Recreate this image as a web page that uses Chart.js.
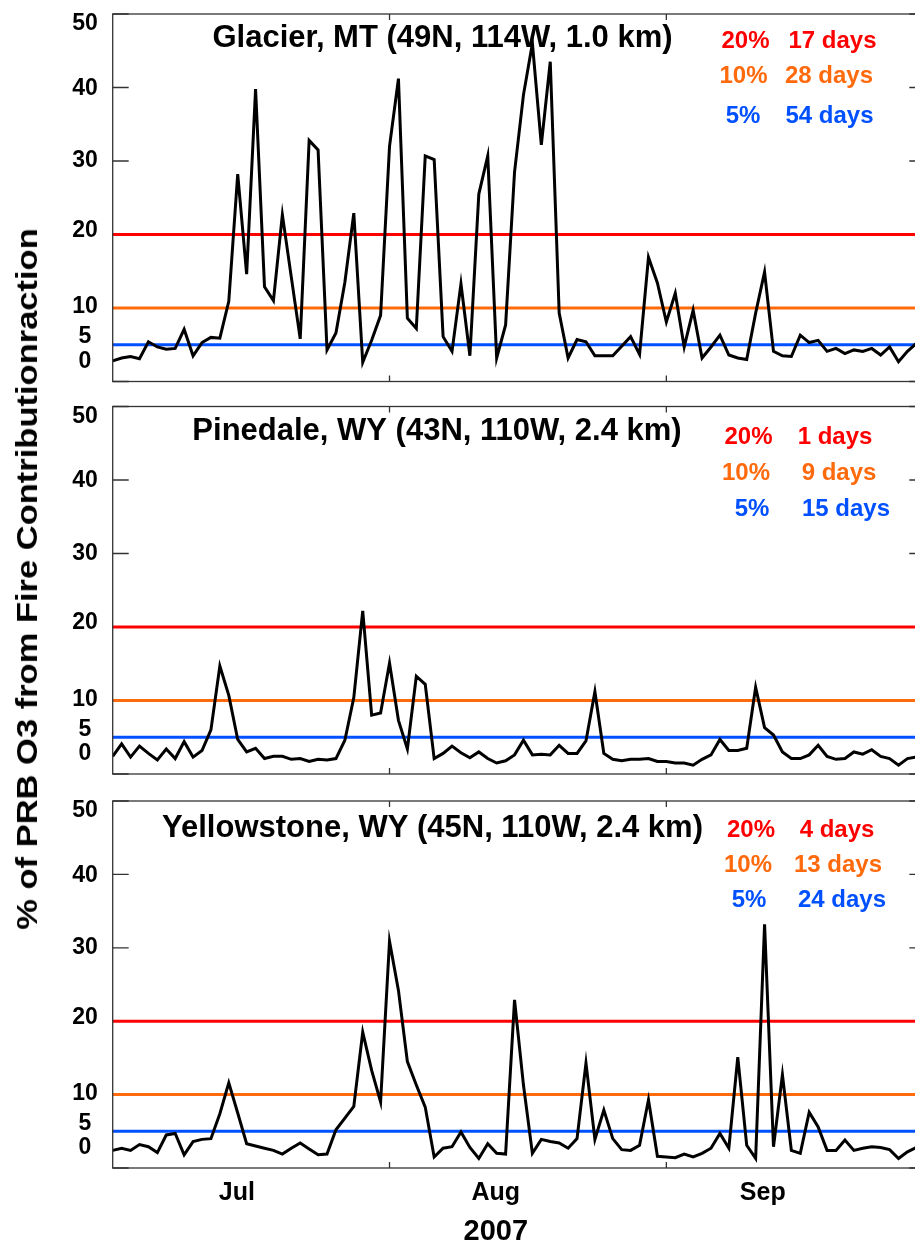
<!DOCTYPE html>
<html>
<head>
<meta charset="utf-8">
<script src="https://cdn.jsdelivr.net/npm/chart.js@4.4.1/dist/chart.umd.min.js"></script>
<style>
  html, body { margin: 0; padding: 0; overflow: hidden; background: #fff; }
  #page { position: relative; width: 915px; height: 1243px; overflow: hidden; }
  #page canvas { position: absolute; left: 0; }
  #ytitle {
    position: absolute; left: 27px; top: 579px;
    font: bold 30px "Liberation Sans", Arial, sans-serif;
    line-height: 30px; white-space: nowrap; color: #000;
    transform: translate(-50%, -50%) rotate(-90deg) scaleX(1.15);
  }
</style>
</head>
<body>
<div id="page">
  <canvas id="glacier" width="930" height="395" style="top:0px"></canvas>
  <canvas id="pinedale" width="930" height="395" style="top:395px"></canvas>
  <canvas id="yellowstone" width="930" height="453" style="top:790px"></canvas>
  <div id="ytitle">% of PRB O3 from Fire Contributionraction</div>
</div>
<script>
// daily fire contribution (%), day 0 = Jul 1 2007 ... day 91 = Sep 30
const glacier = [
  2.8, 3.2, 3.4, 3.1, 5.4, 4.7, 4.4, 4.5, 7.1, 3.5,
  5.3, 6.0, 5.9, 10.9, 28.2, 14.6, 39.8, 12.9, 11.0, 22.7,
  14.2, 5.8, 32.8, 31.5, 4.3, 6.6, 13.5, 22.9, 2.6, 5.6,
  9.0, 32.0, 41.2, 8.6, 7.2, 30.7, 30.2, 6.1, 4.1, 13.3,
  3.5, 25.5, 30.7, 3.2, 7.7, 28.5, 39.0, 46.0, 32.2, 43.5,
  9.3, 3.2, 5.7, 5.4, 3.5, 3.5, 3.5, 4.8, 6.1, 3.7,
  16.9, 13.4, 8.1, 12.0, 4.7, 9.7, 3.2, 4.7, 6.3, 3.6,
  3.2, 3.0, 9.3, 14.9, 4.1, 3.5, 3.4, 6.3, 5.3, 5.6,
  4.1, 4.5, 3.8, 4.3, 4.1, 4.5, 3.6, 4.7, 2.7, 4.1,
  5.2, 6.2
];
const pinedale = [
  2.4, 4.1, 2.3, 3.8, 2.8, 1.9, 3.4, 2.1, 4.4, 2.3,
  3.2, 6.0, 14.7, 10.7, 4.7, 3.0, 3.5, 2.1, 2.4, 2.4,
  2.0, 2.1, 1.7, 2.0, 1.9, 2.1, 4.6, 10.4, 22.2, 8.0,
  8.3, 15.1, 7.3, 3.4, 13.3, 12.2, 2.1, 2.8, 3.8, 2.9,
  2.2, 3.0, 2.1, 1.5, 1.8, 2.6, 4.6, 2.6, 2.7, 2.6,
  3.9, 2.8, 2.8, 4.5, 11.2, 2.8, 2.0, 1.8, 2.0, 2.0,
  2.1, 1.7, 1.7, 1.5, 1.5, 1.2, 2.0, 2.6, 4.7, 3.2,
  3.2, 3.5, 11.8, 6.3, 5.3, 3.0, 2.1, 2.1, 2.6, 3.9,
  2.4, 2.0, 2.1, 3.0, 2.7, 3.3, 2.4, 2.1, 1.2, 2.1,
  2.3, 2.3
];
const yellowstone = [
  2.4, 2.7, 2.4, 3.2, 2.9, 2.1, 4.5, 4.7, 1.8, 3.6,
  3.9, 4.0, 7.4, 11.6, 7.5, 3.3, 3.0, 2.7, 2.4, 1.9,
  2.7, 3.4, 2.6, 1.8, 1.9, 5.2, 6.8, 8.4, 18.5, 13.3,
  9.0, 30.9, 24.2, 14.5, 11.3, 8.3, 1.5, 2.7, 2.9, 4.9,
  2.8, 1.3, 3.3, 2.0, 1.9, 22.9, 11.3, 2.0, 3.9, 3.6,
  3.4, 2.7, 4.0, 14.3, 3.9, 7.9, 4.0, 2.5, 2.4, 3.1,
  9.3, 1.6, 1.5, 1.4, 1.9, 1.5, 2.0, 2.7, 4.7, 2.7,
  15.1, 3.1, 1.3, 33.2, 2.9, 12.7, 2.4, 2.0, 7.6, 5.6,
  2.4, 2.4, 3.8, 2.4, 2.7, 2.9, 2.8, 2.5, 1.3, 2.2,
  2.8, 3.0
];

// threshold lines and number of days above each one
const thresholds = [20, 10, 5];
const glacierDays = [17, 28, 54];
const pinedaleDays = [1, 9, 15];
const yellowstoneDays = [4, 13, 24];

const yTicks = [0, 5, 10, 20, 30, 40, 50];
const monthStarts = [31, 62];          // Aug 1, Sep 1
const monthNames = ['Jul', 'Aug', 'Sep'];
const monthLabelDays = [13.9, 42.9, 72.8];
const yearLabel = '2007';

const thresholdColors = ['#ff0000', '#ff6a0d', '#0050ff'];
const FONT = '"Liberation Sans", Arial, sans-serif';

// small offsets so the 0/5/50 labels sit inside the frame like the original figure
const yLabelNudge = { 0: -20, 5: -8, 10: -1, 20: -4, 30: 0, 40: 1, 50: 10 };

const panelDecor = {
  id: 'panelDecor',
  beforeDatasetsDraw(chart, args, o) {
    const { ctx, chartArea: a, scales: { x, y } } = chart;
    ctx.save();
    ctx.strokeStyle = '#333';
    ctx.lineWidth = 1.3;
    ctx.beginPath();
    yTicks.forEach(v => {
      const py = y.getPixelForValue(v);
      ctx.moveTo(a.left, py); ctx.lineTo(a.left + 16, py);
      ctx.moveTo(a.right, py); ctx.lineTo(a.right - 16, py);
    });
    monthStarts.forEach(d => {
      const px = x.getPixelForValue(d);
      ctx.moveTo(px, a.top); ctx.lineTo(px, a.top + 6);
      ctx.moveTo(px, a.bottom); ctx.lineTo(px, a.bottom - 6);
    });
    ctx.stroke();
    ctx.restore();
  },
  afterDatasetsDraw(chart, args, o) {
    const { ctx, chartArea: a, scales: { x, y } } = chart;
    ctx.save();
    ctx.strokeStyle = '#333';
    ctx.lineWidth = 1.3;
    ctx.strokeRect(a.left, a.top, a.right - a.left, a.bottom - a.top);

    // y tick labels
    ctx.fillStyle = '#000';
    ctx.font = 'bold 23px ' + FONT;
    ctx.textAlign = 'center';
    ctx.textBaseline = 'middle';
    yTicks.forEach(v => {
      ctx.fillText(String(v), 85, y.getPixelForValue(v) + (yLabelNudge[v] || 0));
    });

    // site name
    ctx.textBaseline = 'alphabetic';
    ctx.font = 'bold 31px ' + FONT;
    ctx.fillText(o.title, o.titleX, a.top + o.titleY);

    // threshold counts
    ctx.font = 'bold 24px ' + FONT;
    thresholds.forEach((t, k) => {
      ctx.fillStyle = thresholdColors[k];
      const by = a.top + o.rowY[k];
      ctx.fillText(t + '%', o.pctX[k], by);
      ctx.fillText(o.days[k] + ' days', o.dayX[k], by);
    });

    // month labels and year under the last panel
    if (o.months) {
      ctx.fillStyle = '#000';
      ctx.font = 'bold 25px ' + FONT;
      monthNames.forEach((m, k) => {
        ctx.fillText(m, x.getPixelForValue(monthLabelDays[k]), a.bottom + 32);
      });
      ctx.font = 'bold 29px ' + FONT;
      ctx.fillText(yearLabel, x.getPixelForValue(monthLabelDays[1]), a.bottom + 72);
    }
    ctx.restore();
  }
};

function makePanel(id, values, days, pad, deco) {
  const lastDay = values.length - 1;
  const series = values.map((v, i) => ({ x: i, y: v }));
  const lines = thresholds.map((t, k) => ({
    data: [{ x: 0, y: t }, { x: lastDay, y: t }],
    borderColor: thresholdColors[k],
    borderWidth: 3,
    pointRadius: 0,
    order: 1
  }));
  return new Chart(document.getElementById(id), {
    type: 'line',
    data: {
      datasets: [
        { data: series, borderColor: '#000', borderWidth: 3, pointRadius: 0, tension: 0, order: 0 },
        ...lines
      ]
    },
    options: {
      responsive: false,
      animation: false,
      events: [],
      layout: { padding: pad },
      scales: {
        x: { type: 'linear', min: 0, max: lastDay, display: false },
        y: { min: 0, max: 50, display: false }
      },
      plugins: {
        legend: { display: false },
        tooltip: { enabled: false },
        panelDecor: Object.assign({ days }, deco)
      }
    },
    plugins: [panelDecor]
  });
}

makePanel('glacier', glacier, glacierDays,
  { left: 112.7, right: 4.7, top: 14, bottom: 13.5 },
  { title: 'Glacier, MT (49N, 114W, 1.0 km)', titleX: 442.5, titleY: 32.7,
    pctX: [745.5, 743.5, 743], dayX: [832.5, 829, 829.5], rowY: [34.3, 69.3, 109.3] });

makePanel('pinedale', pinedale, pinedaleDays,
  { left: 112.7, right: 4.7, top: 11.5, bottom: 16 },
  { title: 'Pinedale, WY (43N, 110W, 2.4 km)', titleX: 437, titleY: 33.5,
    pctX: [748.5, 746, 752], dayX: [835, 839, 846], rowY: [37.5, 73.5, 109.5] });

makePanel('yellowstone', yellowstone, yellowstoneDays,
  { left: 112.7, right: 4.7, top: 11, bottom: 75 },
  { title: 'Yellowstone, WY (45N, 110W, 2.4 km)', titleX: 432.5, titleY: 35.7,
    pctX: [751, 748, 749], dayX: [837, 838, 842], rowY: [35.7, 70.7, 106], months: true });
</script>
</body>
</html>
